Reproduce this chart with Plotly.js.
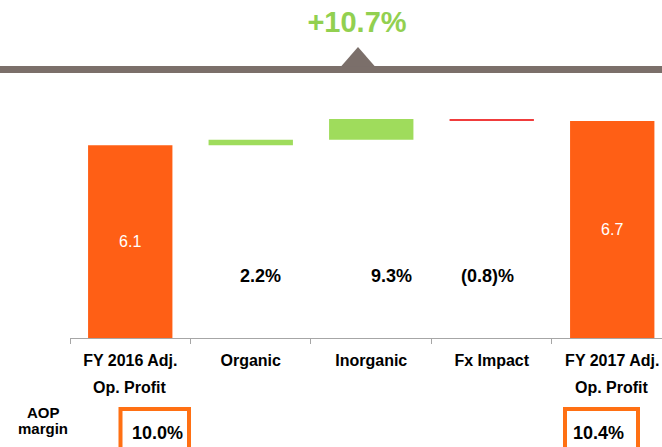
<!DOCTYPE html>
<html>
<head>
<meta charset="utf-8">
<script src="https://cdn.plot.ly/plotly-3.0.1.min.js"></script>
<style>html,body{margin:0;padding:0;background:#fff;}#chart{width:662px;height:447px;}</style>
</head>
<body>
<div id="chart"></div>
<script>
// ---- data ----
const categories = ['FY 2016 Adj.<br>Op. Profit', 'Organic', 'Inorganic', 'Fx Impact', 'FY 2017 Adj.<br>Op. Profit'];
const measures = ['absolute', 'relative', 'relative', 'relative', 'total'];
const values = [6.1, 0.17, 0.66, -0.06, 0];
const barLabels = ['6.1', '', '', '', '6.7'];
const growthCats = ['Organic', 'Inorganic', 'Fx Impact'];
const growthLabels = ['2.2%', '9.3%', '(0.8)%'];
const totalGrowth = '+10.7%';
const marginCats = ['FY 2016 Adj.<br>Op. Profit', 'FY 2017 Adj.<br>Op. Profit'];
const marginLabels = ['10.0%', '10.4%'];
const marginTitle = ['AOP', 'margin'];

// ---- layout helpers ----
const FW = 662, FH = 447;
const L = 70, T = 100, W = 592, H = 238;
const px = x => (x - L) / W;
const py = y => (T + H - y) / H;
const FONT = 'Liberation Sans, Arial, sans-serif';
const ORANGE = '#ff5f15', GREEN = '#9fdc5c', RED = '#f03c3c';

const trace = {
  type: 'waterfall',
  x: categories,
  y: values,
  measure: measures,
  text: barLabels,
  textposition: 'inside',
  insidetextanchor: 'middle',
  textfont: {family: FONT, size: 16, color: '#ffffff'},
  totals: {marker: {color: ORANGE, line: {width: 0}}},
  increasing: {marker: {color: GREEN, line: {width: 0}}},
  decreasing: {marker: {color: RED, line: {width: 0}}},
  connector: {visible: false},
  width: 0.7,
  hoverinfo: 'skip'
};

const annotations = [];
// category labels: first line as tick label, second line as annotation (wider line spacing)
const firstLines = categories.map(c => c.split('<br>')[0]);
categories.forEach(c => {
  const parts = c.split('<br>');
  if (parts.length > 1) {
    annotations.push({x: c, y: py(387.5), xref: 'x', yref: 'paper', text: '<b>' + parts[1] + '</b>',
      showarrow: false, xanchor: 'center', yanchor: 'middle', font: {family: FONT, size: 16, color: '#000'}});
  }
});
const growthShift = [10, 20, -4];
growthCats.forEach((c, i) => annotations.push({
  x: c, y: 1.96, xref: 'x', yref: 'y', text: '<b>' + growthLabels[i] + '</b>',
  showarrow: false, xshift: growthShift[i], yanchor: 'middle',
  font: {family: FONT, size: 18, color: '#000'}
}));
const mtY = [412, 428];
marginTitle.forEach((t, i) => annotations.push({x: px(43), y: py(mtY[i]), xref: 'paper', yref: 'paper', text: '<b>' + t + '</b>',
  showarrow: false, xanchor: 'center', yanchor: 'middle', font: {family: FONT, size: 15, color: '#000'}}));
const marginX = [157, 598];
marginCats.forEach((c, i) => annotations.push({
  x: px(marginX[i]), y: py(432.5), xref: 'paper', yref: 'paper', text: '<b>' + marginLabels[i] + '</b>',
  showarrow: false, xanchor: 'center', yanchor: 'middle', font: {family: FONT, size: 18, color: '#000'}
}));

const shapes = [
  {type: 'rect', xref: 'paper', yref: 'paper', x0: px(0), x1: px(662), y0: py(73), y1: py(66),
   fillcolor: '#7b6f6a', line: {width: 0}},
  {type: 'path', xref: 'paper', yref: 'paper',
   path: `M ${px(341)} ${py(66.5)} L ${px(358)} ${py(47)} L ${px(375)} ${py(66.5)} Z`,
   fillcolor: '#7b6f6a', line: {width: 0}},
  {type: 'rect', xref: 'paper', yref: 'paper', x0: px(120.5), x1: px(189), y0: py(409), y1: py(470),
   fillcolor: 'rgba(0,0,0,0)', line: {color: '#ff7013', width: 4}},
  {type: 'rect', xref: 'paper', yref: 'paper', x0: px(565), x1: px(638), y0: py(409), y1: py(470),
   fillcolor: 'rgba(0,0,0,0)', line: {color: '#ff7013', width: 4}}
];

const layout = {
  width: FW, height: FH,
  margin: {l: L, r: FW - L - W, t: T, b: FH - T - H, pad: 0},
  paper_bgcolor: '#fff', plot_bgcolor: '#fff',
  showlegend: false,
  title: {text: '<b>' + totalGrowth + '</b>', x: 357 / FW, xref: 'container', xanchor: 'center',
          y: 1 - 22 / FH, yref: 'container', yanchor: 'middle',
          font: {family: FONT, size: 29, color: '#92d050'}},
  xaxis: {
    type: 'category', range: [-0.5, 4.413], fixedrange: true,
    tickmode: 'array', tickvals: categories, ticktext: firstLines,
    showline: true, linecolor: '#a6a6a6', linewidth: 1,
    ticks: 'outside', tickson: 'boundaries', ticklen: 5, tickcolor: '#a6a6a6', tickwidth: 1,
    showgrid: false, zeroline: false,
    tickfont: {family: FONT, size: 16, color: '#000', weight: 'bold'},
    ticklabelstandoff: 8
  },
  yaxis: {range: [0, H / 31.6], visible: false, showgrid: false, zeroline: false, fixedrange: true},
  annotations: annotations,
  shapes: shapes
};

Plotly.newPlot('chart', [trace], layout, {staticPlot: true, displayModeBar: false});
</script>
</body>
</html>
